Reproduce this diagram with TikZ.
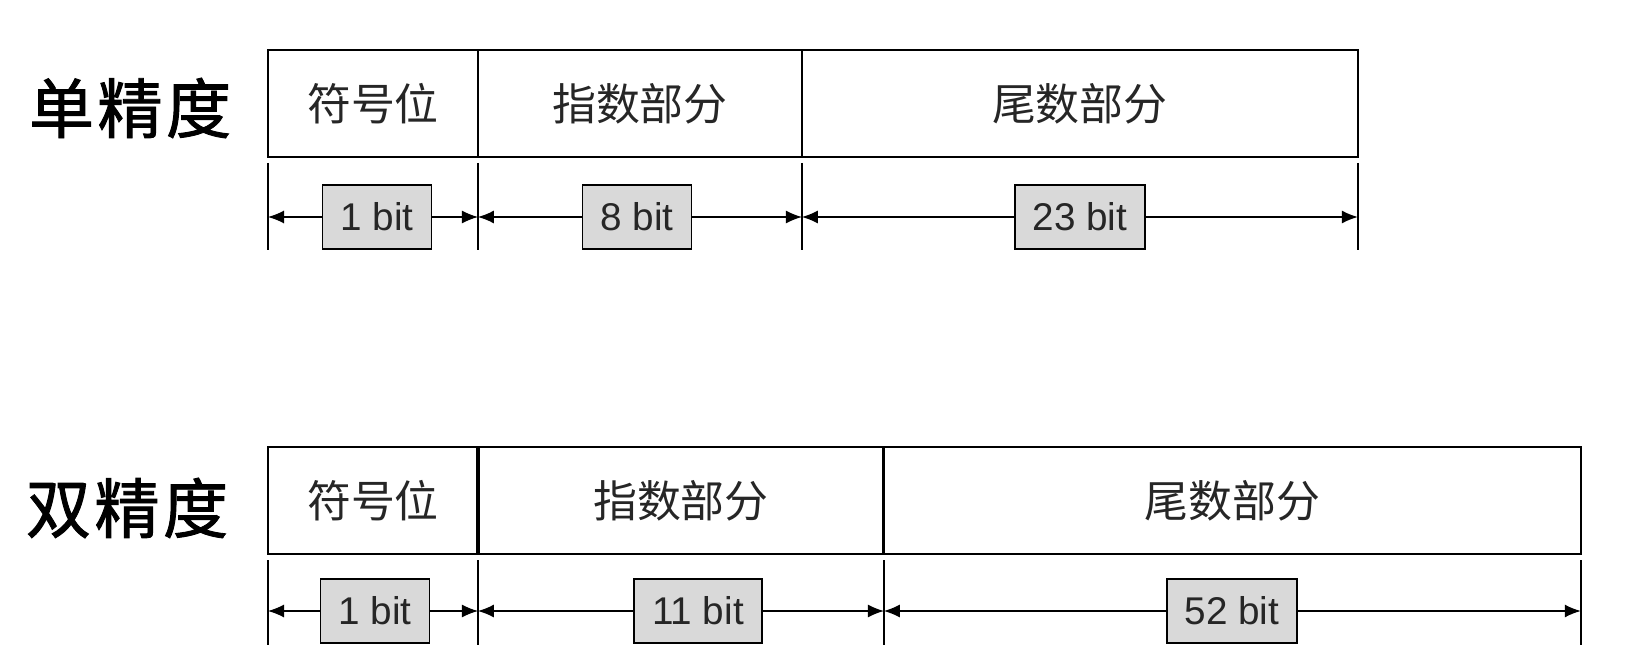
\documentclass[tikz,border=0pt]{standalone}
\usepackage{fontspec}
\setmainfont{Liberation Sans}
\newfontfamily\cjk{Noto Sans CJK SC}
\newfontfamily\cjkheavy[FakeBold=1.4]{Noto Sans CJK SC}
\usetikzlibrary{arrows.meta, positioning}
\definecolor{boxgray}{HTML}{D9D9D9}
\definecolor{txtgray}{HTML}{262626}

\tikzset{
  cell/.style={draw, line width=1.1pt, minimum height=2.14cm, inner sep=0pt, outer sep=0pt,
    font=\cjk\fontsize{25}{25}\selectfont, text=txtgray},
  bitbox/.style={draw, line width=1pt, fill=boxgray, minimum height=1.28cm,
    inner xsep=0.36cm, font=\fontsize{22}{22}\selectfont, text=txtgray},
  tickline/.style={line width=0.7pt},
  dimline/.style={-{Latex[length=0.32cm,width=0.26cm]}, line width=0.7pt},
  kind/.style={font=\cjkheavy\fontsize{37}{37}\selectfont}
}

\begin{document}
\begin{tikzpicture}[x=0.02cm, y=-0.02cm]
	\useasboundingbox (0,0) rectangle (1629,655);

	% single precision
	\node[kind] (sp) at (130,108) {单\kern2pt精\kern2pt度};
	\node[cell, minimum width=4.2cm, anchor=north west] (s1) at (268,50) {符号位};
	\node[cell, minimum width=6.48cm, right=0pt of s1] (s2) {指数部分};
	\node[cell, minimum width=11.12cm, right=0pt of s2] (s3) {尾数部分};

	\foreach \x in {268,478,802,1358}
		\draw[tickline] (\x,163) -- (\x,250);

	\node[bitbox] (sb1) at (377,217) {1 bit};
	\node[bitbox] (sb2) at (637,217) {8 bit};
	\node[bitbox] (sb3) at (1080,217) {23 bit};

	\draw[dimline] (sb1) -- (sb1 -| s1.west);
	\draw[dimline] (sb1) -- (sb1 -| s1.east);
	\draw[dimline] (sb2) -- (sb2 -| s2.west);
	\draw[dimline] (sb2) -- (sb2 -| s2.east);
	\draw[dimline] (sb3) -- (sb3 -| s3.west);
	\draw[dimline] (sb3) -- (sb3 -| s3.east);

	% double precision
	\node[kind] (dp) at (127,508) {双\kern2pt精\kern2pt度};
	\node[cell, minimum width=4.2cm, anchor=north west] (d1) at (268,447) {符号位};
	\node[cell, minimum width=8.12cm, right=0pt of d1] (d2) {指数部分};
	\node[cell, minimum width=13.94cm, right=0pt of d2] (d3) {尾数部分};
	\draw[line width=1.8pt] (d2.north west) -- (d2.south west) (d2.north east) -- (d2.south east);

	\foreach \x in {268,478,884,1581}
		\draw[tickline] (\x,560) -- (\x,645);

	\node[bitbox] (db1) at (375,611) {1 bit};
	\node[bitbox] (db2) at (698,611) {11 bit};
	\node[bitbox] (db3) at (1232,611) {52 bit};

	\draw[dimline] (db1) -- (db1 -| d1.west);
	\draw[dimline] (db1) -- (db1 -| d1.east);
	\draw[dimline] (db2) -- (db2 -| d2.west);
	\draw[dimline] (db2) -- (db2 -| d2.east);
	\draw[dimline] (db3) -- (db3 -| d3.west);
	\draw[dimline] (db3) -- (db3 -| d3.east);
\end{tikzpicture}
\end{document}
